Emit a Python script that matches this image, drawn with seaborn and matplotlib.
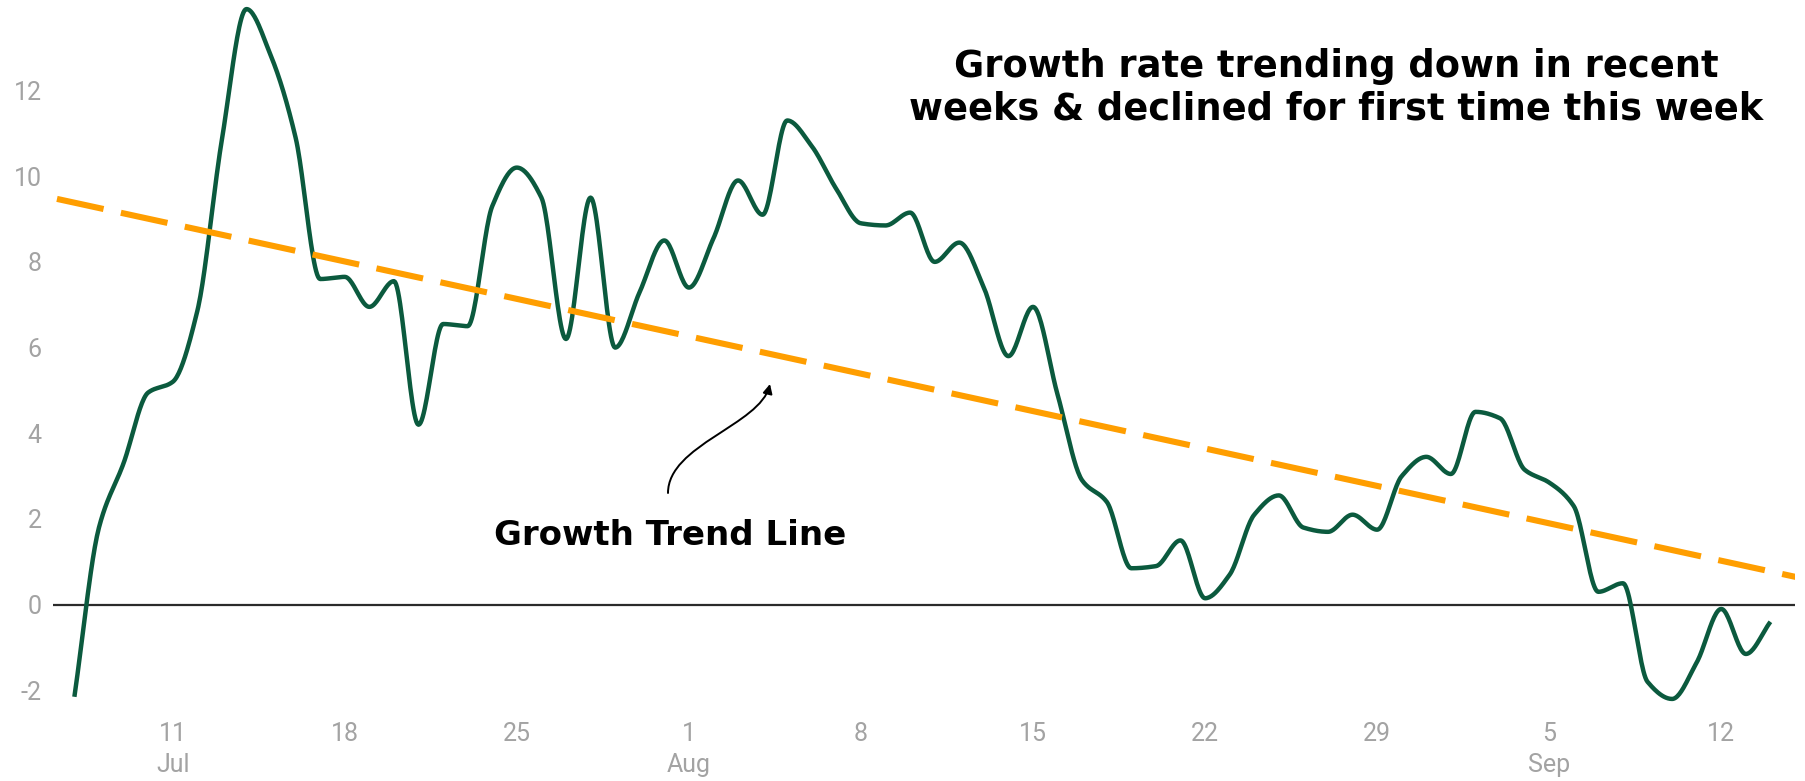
import numpy as np
import pandas as pd
import matplotlib
matplotlib.use("Agg")
import matplotlib.pyplot as plt
import seaborn as sns
from matplotlib.patches import FancyArrowPatch
from matplotlib.path import Path

# ---------------- data ----------------
start_date = "2020-07-07"
growth_rate = [
    -2.15, 1.8, 3.3, 4.95, 5.2, 6.85, 10.85, 13.9, 12.8, 10.9,   # Jul 7-16
    7.6, 7.65, 6.95, 7.55, 4.2, 6.55, 6.5, 9.3, 10.2, 9.5,       # Jul 17-26
    6.2, 9.5, 6.0, 7.3, 8.5,                                     # Jul 27-31
    7.4, 8.55, 9.9, 9.1, 11.3, 10.7, 9.7, 8.9, 8.85, 9.15,       # Aug 1-10
    8.0, 8.45, 7.4, 5.8, 6.95, 4.9, 2.9, 2.4, 0.85, 0.9,         # Aug 11-20
    1.5, 0.15, 0.7, 2.1, 2.55, 1.8, 1.7, 2.1, 1.75, 3.0, 3.45,   # Aug 21-31
    3.05, 4.5, 4.35, 3.15, 2.85, 2.3, 0.3, 0.5, -1.8, -2.2,      # Sep 1-10
    -1.35, -0.1, -1.15, -0.4,                                    # Sep 11-14
]
trend_dates = ["2020-07-06 07:00", "2020-09-15 06:00"]
trend_values = [9.47, 0.62]
tick_dates = ["2020-07-11", "2020-07-18", "2020-07-25", "2020-08-01", "2020-08-08",
              "2020-08-15", "2020-08-22", "2020-08-29", "2020-09-05", "2020-09-12"]
tick_labels = ["11\nJul", "18", "25", "1\nAug", "8", "15", "22", "29", "5\nSep", "12"]
y_ticks = [-2, 0, 2, 4, 6, 8, 10, 12]
title_text = "Growth rate trending down in recent\nweeks & declined for first time this week"
annotation_text = "Growth Trend Line"

GREEN = "#0b5a3e"
ORANGE = "#ff9e00"
TICK_GREY = "#a3a3a3"


def pchip(x, y, xn):
    """Monotone cubic (Fritsch-Carlson) used only to draw a smooth curve."""
    x = np.asarray(x, float)
    y = np.asarray(y, float)
    h = np.diff(x)
    delta = np.diff(y) / h
    n = len(x)
    d = np.zeros(n)
    for k in range(1, n - 1):
        if delta[k - 1] * delta[k] > 0:
            w1 = 2 * h[k] + h[k - 1]
            w2 = h[k] + 2 * h[k - 1]
            d[k] = (w1 + w2) / (w1 / delta[k - 1] + w2 / delta[k])
    d[0] = delta[0]
    d[-1] = delta[-1]
    idx = np.clip(np.searchsorted(x, xn) - 1, 0, n - 2)
    t = (xn - x[idx]) / h[idx]
    h00 = 2 * t**3 - 3 * t**2 + 1
    h10 = t**3 - 2 * t**2 + t
    h01 = -2 * t**3 + 3 * t**2
    h11 = t**3 - t**2
    return h00 * y[idx] + h10 * h[idx] * d[idx] + h01 * y[idx + 1] + h11 * h[idx] * d[idx + 1]


# ---------------- figure ----------------
sns.set_theme(style="white")
plt.rcParams["font.family"] = ["Roboto", "DejaVu Sans"]

W, H = 1806, 781
fig = plt.figure(figsize=(W / 100, H / 100), dpi=100)
ax_left, ax_right, ax_top, ax_bottom = 53, 1795, 0.5, 711.8
ax = fig.add_axes([ax_left / W, (H - ax_bottom) / H,
                   (ax_right - ax_left) / W, (ax_bottom - ax_top) / H])

dates = pd.date_range(start_date, periods=len(growth_rate), freq="D")
t = np.arange(len(growth_rate), dtype=float)
tt = np.linspace(0, t[-1], int(t[-1]) * 24 + 1)
smooth_vals = pchip(t, growth_rate, tt)
smooth_dates = dates[0] + pd.to_timedelta(tt, unit="D")

ax.axhline(0, color="#2b2b2b", lw=1.6, zorder=1)

sns.lineplot(x=smooth_dates, y=smooth_vals, color=GREEN, lw=3.2,
             ax=ax, zorder=3, solid_capstyle="butt")
sns.lineplot(x=pd.to_datetime(trend_dates), y=trend_values, color=ORANGE, lw=4.4,
             linestyle=(0, (7.8, 2.9)), ax=ax, zorder=4)

base = pd.Timestamp("2020-07-11")
ax.set_xlim(base + pd.Timedelta(days=-4.87), base + pd.Timedelta(days=66.0))
ax.set_ylim(-2.5, 14.1)

ax.set_xticks(pd.to_datetime(tick_dates))
ax.set_xticklabels(tick_labels)
ax.set_yticks(y_ticks)
ax.set_yticklabels([str(v) for v in y_ticks])
ax.tick_params(axis="both", length=0, labelsize=18, labelcolor=TICK_GREY)
ax.tick_params(axis="x", pad=7)
ax.tick_params(axis="y", pad=8)
for lbl in ax.get_xticklabels():
    lbl.set_linespacing(1.4)
ax.set_xlabel("")
ax.set_ylabel("")
for s in ax.spines.values():
    s.set_visible(False)
ax.grid(False)

# title annotation
fig.text(1336 / W, 1 - 88 / H, title_text, ha="center", va="center",
         multialignment="center", fontsize=26.5, fontweight="bold",
         family=["DejaVu Sans"], color="black", linespacing=1.2)

# trend label + arrow
fig.text(670 / W, 1 - 535.6 / H, annotation_text, ha="center", va="center",
         fontsize=24.5, fontweight="bold", family=["DejaVu Sans"], color="black")

def fpt(px, py):
    return (px / W, 1 - py / H)

verts = [fpt(668, 493), fpt(668, 445), fpt(760, 425), fpt(770, 384)]
codes = [Path.MOVETO, Path.CURVE4, Path.CURVE4, Path.CURVE4]
arrow = FancyArrowPatch(path=Path(verts, codes), arrowstyle="-|>",
                        mutation_scale=14, lw=1.4, color="black",
                        transform=fig.transFigure)
fig.add_artist(arrow)

fig.savefig("out.png", dpi=100, facecolor="white")
